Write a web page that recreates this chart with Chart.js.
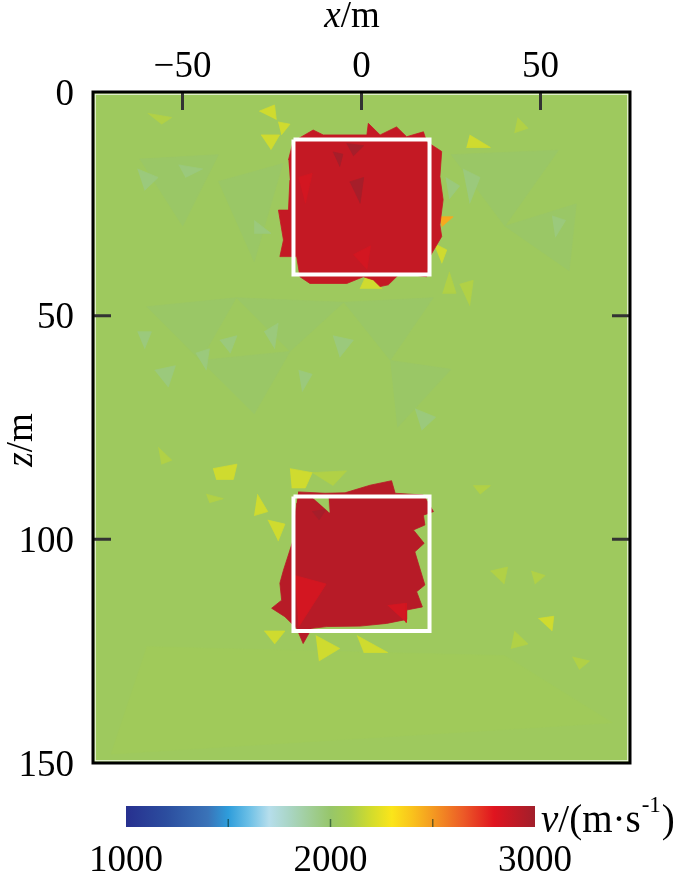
<!DOCTYPE html>
<html>
<head>
<meta charset="utf-8">
<script src="https://cdn.jsdelivr.net/npm/chart.js@4.4.1/dist/chart.umd.min.js"></script>
<style>
  html, body { margin: 0; padding: 0; background: #fff; }
  #wrap { position: relative; width: 700px; height: 873px; }
  #main { position: absolute; left: 0; top: 0; width: 700px; height: 790px; }
  #bar { position: absolute; left: 0; top: 790px; width: 700px; height: 83px; }
</style>
</head>
<body>
<div id="wrap">
  <div id="main"><canvas id="model"></canvas></div>
  <div id="bar"><canvas id="cbar"></canvas></div>
</div>
<script>
// axes
var xRange = [-75, 75];
var zRange = [0, 150];
var vRange = [1000, 3000];
var xTicks = [-50, 0, 50];
var zTicks = [0, 50, 100, 150];
var cbarTicks = [1000, 2000, 3000];
var cbarMarks = [1500, 2000, 2500];

// velocity model, (x, z) in metres, v in m/s
var backgroundVelocity = 2040;

var boxX = [-19, 19];
var boxTopZ = [10.6, 40.8];
var boxBottomZ = [90.4, 120.5];

var anomalyTopVelocity = 2890;
var anomalyTop = [
  [-20.4,15.2],[-19.1,11.1],[-13.5,8.5],[-10.7,9.6],[1.5,9.6],[1.9,7.0],[5.2,9.6],[9.8,7.8],
  [12.6,10.0],[17.3,8.9],[18.2,11.1],[22.4,13.3],[21.9,18.9],[22.8,24.1],[21.9,29.7],[22.4,32.3],
  [19.1,36.8],[18.2,41.3],[10.8,40.5],[7.5,43.1],[5.2,43.5],[3.3,42.0],[0.5,41.3],[-4.1,42.8],
  [-14.4,42.8],[-17.2,41.3],[-18.1,36.8],[-22.8,36.8],[-21.8,33.1],[-23.2,26.4],[-20.4,26.4],[-20.0,19.7]
];

var anomalyBottomVelocity = 2930;
var anomalyBottom = [
  [-17.7,89.4],[-10.2,89.7],[-4.6,89.6],[2.4,87.9],[8.4,86.9],[9.4,89.7],[17.3,90.1],[20.1,93.8],
  [17.3,94.6],[17.7,96.8],[14.5,97.9],[17.5,100.9],[14.9,102.8],[17.7,110.2],[15.4,111.7],[17.0,115.1],
  [12.6,115.8],[12.6,117.9],[7.0,118.8],[-0.4,119.4],[-9.7,119.5],[-13.9,119.9],[-16.3,123.3],[-18.1,119.9],
  [-21.4,117.3],[-25.1,115.4],[-22.3,113.6],[-22.8,109.8],[-21.8,106.9],[-19.1,100.2],[-18.6,94.9],[-18.1,91.9]
];

// faint zones of the background
var softTealVelocity = 2015;
var softTealPatches = [
  [[-60,48],[-35,46],[-45,60]],
  [[-35,46],[-5,47],[-20,58]],
  [[-45,60],[-20,58],[-30,72]],
  [[-5,47],[20,46],[8,60]],
  [[8,60],[25,62],[10,75]],
  [[-62,15],[-40,14],[-50,30]],
  [[-40,20],[-22,16],[-30,38]],
  [[25,14],[55,13],[40,30]],
  [[40,30],[60,25],[58,40]]
];
var deepVelocity = 2052;
var deepPatches = [
  [[-60,124],[40,126],[70,141],[-70,148]]
];

var tealVelocity = 1960;
var tealPatches = [
  [[-62.6,17.2],[-56.8,19.1],[-60.6,22.0]],
  [[-51.1,16.3],[-44.4,17.2],[-49.2,19.1]],
  [[-30,28.7],[-25.3,31.6],[-30,31.6]],
  [[28.3,17.2],[33.1,19.1],[30.2,24.9]],
  [[23.5,19.1],[27.4,21],[24.5,23.9]],
  [[53.2,27.7],[57,28.7],[54.1,32.5]],
  [[-27.2,53.6],[-23.3,51.7],[-24.3,57.4]],
  [[-39.6,55.5],[-34.8,54.5],[-36.7,58.4]],
  [[-57.8,62.2],[-52,61.2],[-54,66]],
  [[-46.3,58.4],[-42.5,57.4],[-43.4,62.2]],
  [[-8,54.5],[-2.3,55.5],[-6.1,59.3]],
  [[14.9,70.8],[20.7,72.7],[16.8,75.6]],
  [[-62.6,53.6],[-58.7,53.6],[-60.6,57.4]],
  [[-17.6,62.2],[-13.8,63.1],[-16.6,67]]
];

var paleYellowVelocity = 2120;
var paleYellowPatches = [
  [[-59.7,4.8],[-53,5.7],[-55.9,7.2]],
  [[43.6,5.7],[46.5,8.1],[42.7,9.1]],
  [[24.5,40.2],[26.4,45],[22.6,45]],
  [[27.4,43],[31.2,42.1],[30.2,47.8]],
  [[-56.8,79.4],[-53,82.3],[-55.9,83.2]],
  [[-13.8,85.1],[-4.2,84.7],[-8,88]],
  [[-43.4,89.9],[-38.6,90.9],[-42.5,91.8]],
  [[31.2,88],[36,88],[33.1,89.9]],
  [[42.7,120.5],[46.5,123.4],[41.7,124.4]],
  [[36,107.1],[40.8,106.2],[39.8,110]],
  [[47.4,107.1],[51.3,108.1],[48.4,110]],
  [[58.9,126.3],[63.7,127.2],[60.8,129.1]]
];

var yellowVelocity = 2190;
var yellowPatches = [
  [[-28.6,4.3],[-24.3,2.9],[-23.8,6.2]],
  [[-23.3,6.7],[-20.0,7.2],[-22.4,9.6]],
  [[-28.1,9.6],[-22.9,9.6],[-25.3,12.9]],
  [[30.2,9.6],[36,12.4],[29.3,12.4]],
  [[20.1,33.8],[23.8,35.3],[22.4,38.3]],
  [[-0.4,44],[1.5,40.7],[5.8,44]],
  [[-20,84.2],[-13.8,85.1],[-15.7,88.5],[-19.5,88.5]],
  [[-41.5,84.2],[-34.8,83.2],[-35.8,86.6],[-40.6,86.6]],
  [[-29.1,89.9],[-26.2,93.8],[-30,94.7]],
  [[-26.2,95.7],[-21.4,96.6],[-23.3,100.4]],
  [[-12.8,121.5],[-6.1,124.4],[-11.9,127.2]],
  [[-1.3,121.5],[7.3,125.3],[0.6,125.3]],
  [[-27.2,120.5],[-21.4,120.5],[-24.3,123.4]],
  [[49.4,117.7],[53.7,117.2],[53.2,120.5]]
];

var orangeVelocity = 2460;
var orangePatches = [
  [[21.9,27.9],[25.6,27.9],[22.4,30.1]]
];

var darkRedVelocity = 2985;
var darkRedPatches = [
  [[-8,13.4],[-5.2,13.9],[-6.1,16.7]],
  [[-4.2,11.5],[0.6,12],[-2.3,14.3]],
  [[-3.3,20.1],[0.6,19.1],[-0.4,24.9]],
  [[-13.8,93.8],[-9.9,93.3],[-11.9,95.7]]
];

var brightRedVelocity = 2840;
var brightRedPatches = [
  [[-17.6,19.1],[-13.8,18.2],[-15.7,24.9]],
  [[-2.3,36.4],[2.5,34.4],[1.5,39.7]],
  [[-18.6,108.1],[-9.9,110],[-17.6,119.6]],
  [[7.3,114.8],[12.5,114.3],[12.5,118.6]]
];

var notchPatches = [
  [[-13.5,90.8],[-9.3,90.6],[-9.0,94.0]]
];

// colour scale of the colour bar
var cmapV = [1000, 1200, 1400, 1500, 1600, 1700, 1800, 2000, 2100, 2200, 2300, 2400, 2500, 2650, 2800, 3000];
var cmapC = ['#27308f', '#2c4e9f', '#3a73b8', '#2e9ddb', '#6bbfe6', '#b6deec', '#a9d5c4', '#97c66a',
             '#a9ce4c', '#d3dc2c', '#fbe51a', '#f9c21c', '#f49a21', '#ec5a27', '#e0141f', '#a11f2b'];

var FONT = "'Liberation Serif', 'DejaVu Serif', serif";
var FS = 37;

function hex(c) {
  return [parseInt(c.substr(1, 2), 16), parseInt(c.substr(3, 2), 16), parseInt(c.substr(5, 2), 16)];
}

function vColor(v) {
  var i = 1;
  while (i < cmapV.length - 1 && v > cmapV[i]) i++;
  var t = (v - cmapV[i - 1]) / (cmapV[i] - cmapV[i - 1]);
  t = Math.min(1, Math.max(0, t));
  var a = hex(cmapC[i - 1]), b = hex(cmapC[i]);
  return 'rgb(' + a.map(function (c, k) { return Math.round(c + (b[k] - c) * t); }).join(',') + ')';
}

function toXY(pts) {
  return pts.map(function (p) { return {x: p[0], y: p[1]}; });
}

function boxPts(xs, zs) {
  return [[xs[0], zs[0]], [xs[1], zs[0]], [xs[1], zs[1]], [xs[0], zs[1]], [xs[0], zs[0]]];
}

// layers, bottom first
var layers = [];
function addLayers(list, v) {
  list.forEach(function (pts) { layers.push({pts: pts, v: v}); });
}
addLayers([[[xRange[0], zRange[0]], [xRange[1], zRange[0]], [xRange[1], zRange[1]], [xRange[0], zRange[1]]]], backgroundVelocity);
addLayers(softTealPatches, softTealVelocity);
addLayers(deepPatches, deepVelocity);
addLayers(tealPatches, tealVelocity);
addLayers(paleYellowPatches, paleYellowVelocity);
addLayers(yellowPatches, yellowVelocity);
addLayers(orangePatches, orangeVelocity);
addLayers([anomalyTop], anomalyTopVelocity);
addLayers([anomalyBottom], anomalyBottomVelocity);
addLayers(darkRedPatches, darkRedVelocity);
addLayers(brightRedPatches, brightRedVelocity);
addLayers(notchPatches, backgroundVelocity);

var datasets = layers.map(function (l, i) {
  var col = vColor(l.v);
  return {
    data: toXY(l.pts),
    showLine: true,
    fill: 'shape',
    tension: 0,
    backgroundColor: col,
    borderColor: col,
    borderWidth: 0.8,
    pointRadius: 0,
    pointHoverRadius: 0,
    order: layers.length + 2 - i
  };
});

[boxTopZ, boxBottomZ].forEach(function (zs, k) {
  datasets.push({
    data: toXY(boxPts(boxX, zs)),
    showLine: true,
    fill: false,
    borderColor: '#ffffff',
    borderWidth: 4,
    borderJoinStyle: 'miter',
    pointRadius: 0,
    pointHoverRadius: 0,
    order: k
  });
});

function minusSign(v) {
  return String(v).replace('-', '\u2212');
}

function drawMixed(ctx, parts, x, y) {
  // parts: [text, italic]
  var total = 0;
  parts.forEach(function (p) {
    ctx.font = (p[1] ? 'italic ' : '') + FS + 'px ' + FONT;
    total += ctx.measureText(p[0]).width;
  });
  var cx = x - total / 2;
  parts.forEach(function (p) {
    ctx.font = (p[1] ? 'italic ' : '') + FS + 'px ' + FONT;
    ctx.fillText(p[0], cx, y);
    cx += ctx.measureText(p[0]).width;
  });
}

var framePlugin = {
  id: 'frame',
  afterDatasetsDraw: function (chart) {
    var ctx = chart.ctx, a = chart.chartArea;
    var sx = chart.scales.x, sy = chart.scales.y;
    ctx.save();
    ctx.strokeStyle = 'rgba(255,255,255,0.85)';
    ctx.lineWidth = 1.2;
    ctx.strokeRect(a.left + 2.2, a.top + 2.2, a.right - a.left - 4.4, a.bottom - a.top - 4.4);

    ctx.strokeStyle = '#333';
    ctx.lineWidth = 3;
    ctx.beginPath();
    xTicks.forEach(function (v) {
      var px = sx.getPixelForValue(v);
      ctx.moveTo(px, a.top);
      ctx.lineTo(px, a.top + 18);
    });
    zTicks.forEach(function (v) {
      if (v <= zRange[0] || v >= zRange[1]) return;
      var py = sy.getPixelForValue(v);
      ctx.moveTo(a.left, py);
      ctx.lineTo(a.left + 18, py);
      ctx.moveTo(a.right, py);
      ctx.lineTo(a.right - 18, py);
    });
    ctx.stroke();

    ctx.strokeStyle = '#000';
    ctx.lineWidth = 3;
    ctx.strokeRect(a.left, a.top, a.right - a.left, a.bottom - a.top);
    ctx.restore();
  },
  afterDraw: function (chart) {
    var ctx = chart.ctx;
    ctx.save();
    ctx.fillStyle = '#000';
    ctx.textBaseline = 'alphabetic';
    ctx.textAlign = 'left';
    drawMixed(ctx, [['x', true], ['/m', false]], 352, 27);
    ctx.translate(32, 440);
    ctx.rotate(-Math.PI / 2);
    drawMixed(ctx, [['z', true], ['/m', false]], 0, 0);
    ctx.restore();
  }
};

new Chart(document.getElementById('model'), {
  type: 'scatter',
  data: { datasets: datasets },
  options: {
    responsive: true,
    maintainAspectRatio: false,
    animation: false,
    events: [],
    layout: { padding: { left: 0, right: 70, top: 0, bottom: 27 } },
    plugins: { legend: { display: false }, tooltip: { enabled: false } },
    scales: {
      x: {
        type: 'linear',
        position: 'top',
        min: xRange[0],
        max: xRange[1],
        afterBuildTicks: function (s) { s.ticks = xTicks.map(function (v) { return {value: v}; }); },
        afterFit: function (s) { s.height = 92; s.paddingLeft = 0; s.paddingRight = 0; },
        grid: { display: false },
        border: { display: false },
        ticks: { font: { family: FONT, size: FS }, color: '#000', padding: -5, maxRotation: 0, autoSkip: false, callback: minusSign }
      },
      y: {
        type: 'linear',
        position: 'left',
        reverse: true,
        min: zRange[0],
        max: zRange[1],
        afterBuildTicks: function (s) { s.ticks = zTicks.map(function (v) { return {value: v}; }); },
        afterFit: function (s) { s.width = 93; s.paddingTop = 0; s.paddingBottom = 0; },
        grid: { display: false },
        border: { display: false },
        ticks: { font: { family: FONT, size: FS }, color: '#000', padding: 11, labelOffset: 3, autoSkip: false }
      }
    }
  },
  plugins: [framePlugin]
});

// colour bar
var cbarPlugin = {
  id: 'cbarMarks',
  afterDatasetsDraw: function (chart) {
    var ctx = chart.ctx, a = chart.chartArea, sx = chart.scales.x;
    ctx.save();
    ctx.strokeStyle = 'rgba(0,40,30,0.55)';
    ctx.lineWidth = 1.5;
    ctx.beginPath();
    cbarMarks.forEach(function (v) {
      var px = sx.getPixelForValue(v);
      ctx.moveTo(px, a.bottom);
      ctx.lineTo(px, a.bottom - 8);
    });
    ctx.stroke();
    ctx.restore();
  },
  afterDraw: function (chart) {
    var ctx = chart.ctx;
    ctx.save();
    ctx.fillStyle = '#000';
    ctx.textBaseline = 'alphabetic';
    ctx.textAlign = 'left';
    var x = 541, base = 42, fs = 39;
    var parts = [['v', 'italic '], ['/(m\u00b7s', '']];
    parts.forEach(function (p) {
      ctx.font = p[1] + fs + 'px ' + FONT;
      ctx.fillText(p[0], x, base);
      x += ctx.measureText(p[0]).width;
    });
    ctx.font = '23px ' + FONT;
    ctx.fillText('-1', x + 1, base - 20);
    x += ctx.measureText('-1').width + 2;
    ctx.font = fs + 'px ' + FONT;
    ctx.fillText(')', x, base);
    ctx.restore();
  }
};

new Chart(document.getElementById('cbar'), {
  type: 'bar',
  data: {
    labels: ['v'],
    datasets: [{
      data: [vRange],
      backgroundColor: function (c) {
        var chart = c.chart;
        if (!chart.chartArea) return cmapC[0];
        var sx = chart.scales.x;
        var g = chart.ctx.createLinearGradient(sx.getPixelForValue(vRange[0]), 0, sx.getPixelForValue(vRange[1]), 0);
        cmapV.forEach(function (v, i) {
          g.addColorStop((v - vRange[0]) / (vRange[1] - vRange[0]), cmapC[i]);
        });
        return g;
      },
      borderWidth: 0,
      barPercentage: 1,
      categoryPercentage: 1
    }]
  },
  options: {
    indexAxis: 'y',
    responsive: true,
    maintainAspectRatio: false,
    animation: false,
    events: [],
    layout: { padding: { left: 126, right: 165, top: 16, bottom: 0 } },
    plugins: { legend: { display: false }, tooltip: { enabled: false } },
    scales: {
      x: {
        type: 'linear',
        position: 'bottom',
        min: vRange[0],
        max: vRange[1],
        afterBuildTicks: function (s) { s.ticks = cbarTicks.map(function (v) { return {value: v}; }); },
        afterFit: function (s) { s.height = 46; },
        grid: { display: false },
        border: { display: false },
        ticks: { font: { family: FONT, size: FS }, color: '#000', padding: 4, maxRotation: 0, autoSkip: false, callback: function (v) { return String(v); } }
      },
      y: { display: false }
    }
  },
  plugins: [cbarPlugin]
});
</script>
</body>
</html>
